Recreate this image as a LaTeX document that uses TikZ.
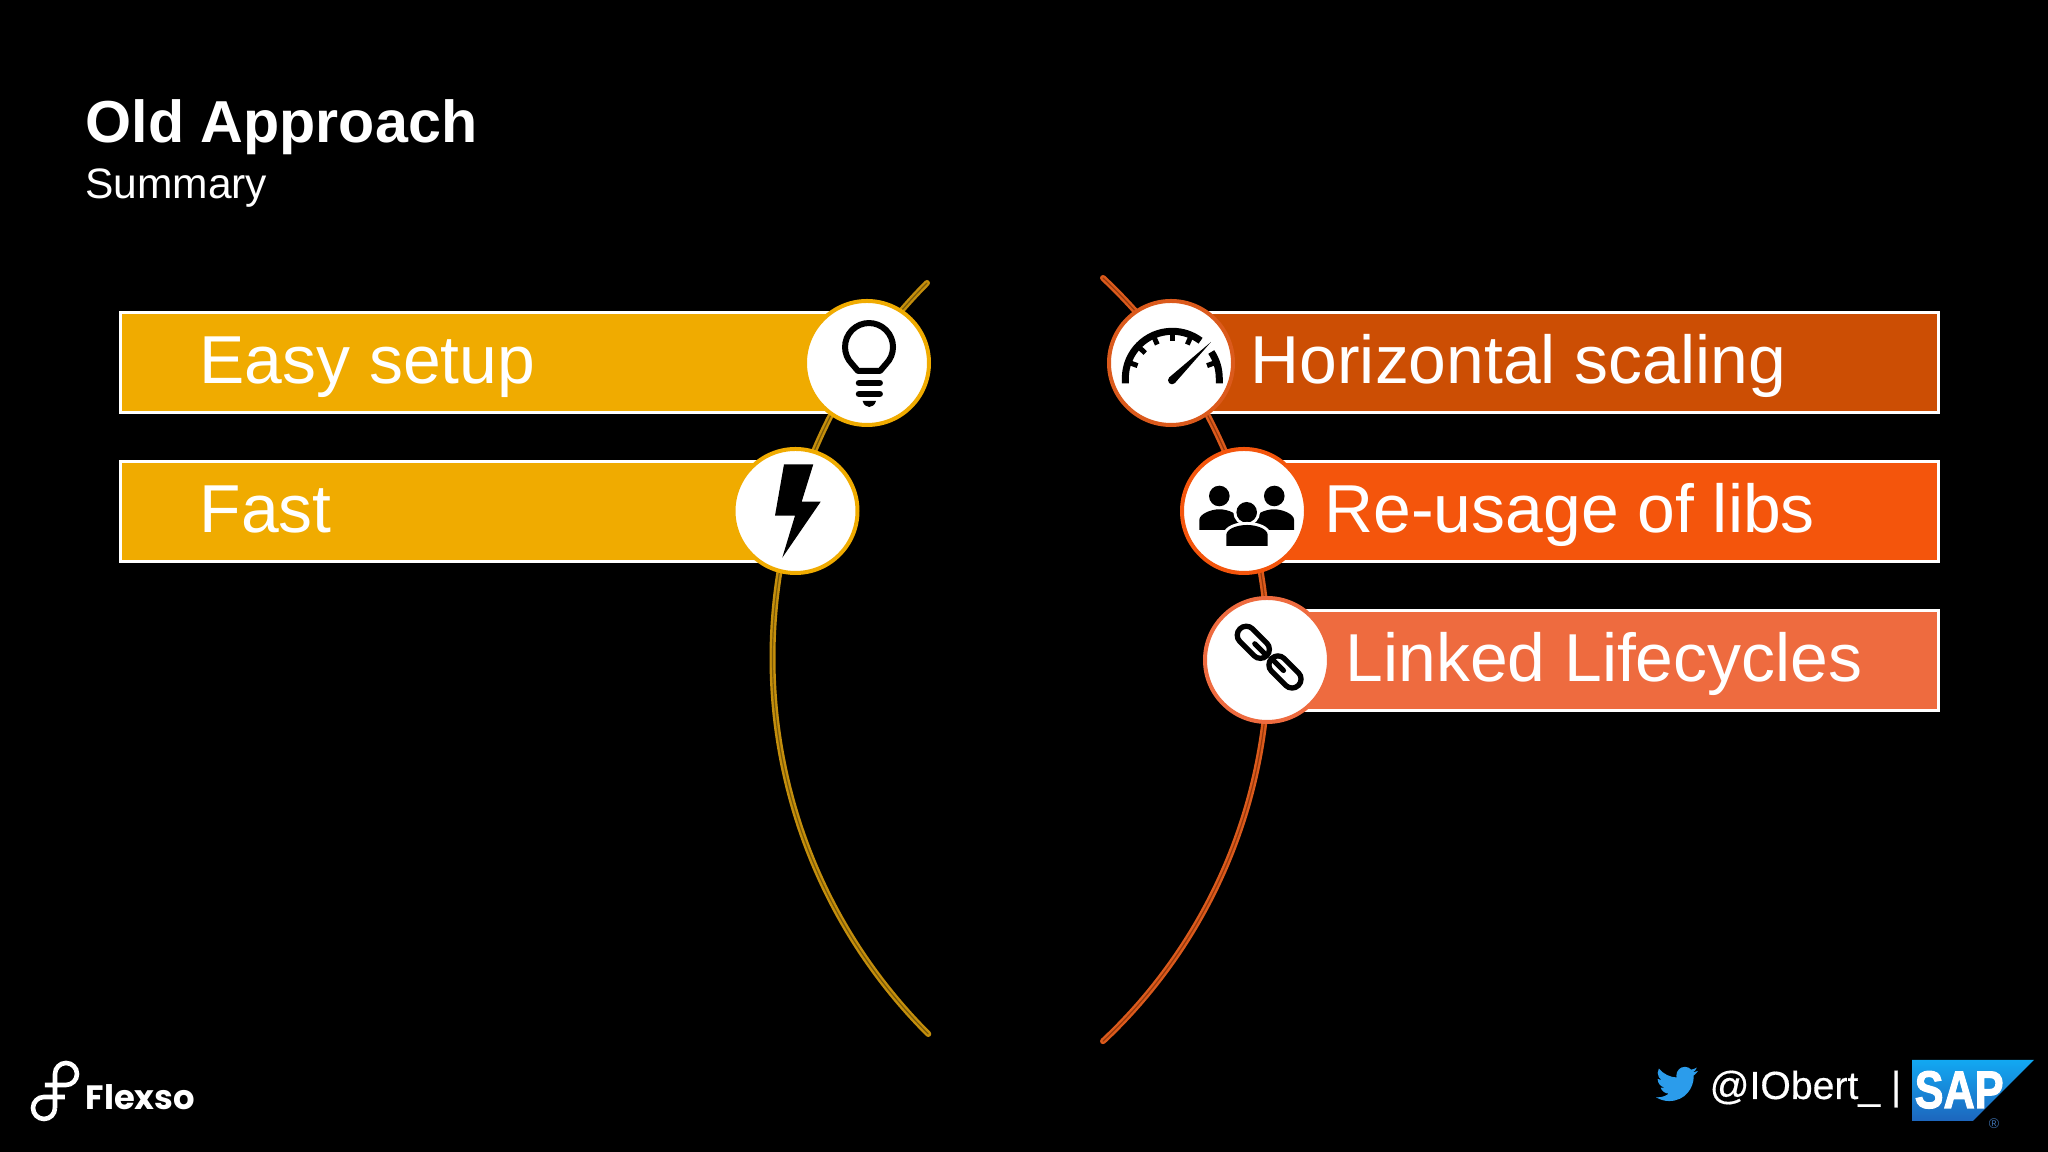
\documentclass[tikz,border=0pt]{standalone}
\usepackage{fontspec}
\setmainfont{Liberation Sans}
\newfontfamily\flexsofont{Poppins}
\newfontfamily\sapfont[FakeBold=2.2]{Liberation Sans Bold}
\newfontfamily\handlefont[FakeBold=0.4]{Liberation Sans}
\usetikzlibrary{%
  shapes,%
  calc%
}
\definecolor{goldbar}{HTML}{F0AB00}
\definecolor{goldline}{HTML}{C48E0C}
\definecolor{goldcore}{HTML}{7A5A08}
\definecolor{rustbar}{HTML}{CC4E04}
\definecolor{orangebar}{HTML}{F4550C}
\definecolor{salmonbar}{HTML}{EE6B3F}
\definecolor{rustline}{HTML}{DB5A1C}
\definecolor{rustcore}{HTML}{96380C}
\definecolor{birdblue}{HTML}{2B9CEB}
\definecolor{saptop}{HTML}{12A8F2}
\definecolor{sapbottom}{HTML}{1D66BD}
\begin{document}
\begin{tikzpicture}[
  bar/.style={rectangle, minimum height=1.0cm, inner sep=0pt, draw=white, line width=0.03cm},
  icon/.style={circle, inner sep=0pt, minimum size=1.24cm, fill=white, line width=0.04cm},
  label/.style={anchor=base west, inner sep=0pt, text=white, font=\fontsize{19.3}{23}\selectfont},
  arcgold/.style={line width=0.024cm, line cap=round, draw=goldline, double=goldcore, double distance=0.012cm},
  arcrust/.style={line width=0.024cm, line cap=round, draw=rustline, double=rustcore, double distance=0.012cm},
  halo/.style={preaction={draw=white, line width=0.06cm}, fill=black}
]

\useasboundingbox (0,0) rectangle (20.48,11.52);
\fill[black] (0,0) rectangle (20.48,11.52);

% titles
\node[anchor=base west, inner sep=0pt, text=white, font=\fontsize{16.85}{20}\selectfont\bfseries] (title) at (0.85,10.09) {Old Approach};
\node[anchor=base west, inner sep=0pt, text=white, font=\fontsize{12.1}{14}\selectfont] (subtitle) at (0.845,9.535) {Summary};

% arcs
\coordinate (goldtop) at (9.27,8.69);
\coordinate (rusttop) at (11.03,8.74);
\draw[arcgold] (goldtop) arc[start angle=135.2, end angle=225.0, radius=5.32];
\draw[arcrust] (rusttop) arc[start angle=46.8, end angle=-46.8, radius=5.235];

% bars
\node[bar, anchor=west, fill=goldbar, minimum width=7.48cm] (easybar) at (1.185,7.89) {};
\node[bar, anchor=west, fill=goldbar, minimum width=6.775cm] (fastbar) at (1.185,6.40) {};
\node[bar, anchor=east, fill=rustbar, minimum width=7.69cm] (scalebar) at (19.40,7.89) {};
\node[bar, anchor=east, fill=orangebar, minimum width=6.96cm] (reusebar) at (19.40,6.40) {};
\node[bar, anchor=east, fill=salmonbar, minimum width=6.73cm] (linkbar) at (19.40,4.915) {};

\node[label] (easy) at (1.99,7.68) {Easy setup};
\node[label] (fast) at (1.99,6.19) {Fast};
\node[label] (scale) at (12.50,7.68) {Horizontal scaling};
\node[label] (reuse) at (13.24,6.19) {Re-usage of libs};
\node[label] (link) at (13.45,4.70) {Linked Lifecycles};

% circles
\node[icon, draw=goldbar] (bulb) at (8.67,7.89) {};
\node[icon, draw=goldbar] (bolt) at (7.955,6.41) {};
\node[icon, draw=rustline] (gauge) at (11.71,7.89) {};
\node[icon, draw=orangebar] (people) at (12.44,6.41) {};
\node[icon, draw=salmonbar] (chain) at (12.67,4.92) {};

% bulb
\begin{scope}[shift={(bulb.center)}, x=0.01cm, y=0.01cm]
  \draw[line width=0.06cm, line join=round] (19,-1) arc[start angle=-45, end angle=225, radius=24] -- (-9,-8) -- (13,-8) -- cycle;
  \draw[line width=0.065cm, line cap=round] (-8,-20) -- (12.7,-20);
  \draw[line width=0.065cm, line cap=round] (-8,-31) -- (12.7,-31);
  \fill (-4.3,-38) -- (9,-38) .. controls (8,-42) and (5,-44) .. (2.3,-44) .. controls (-0.5,-44) and (-3.5,-42) .. (-4.3,-38) -- cycle;
\end{scope}

% bolt
\begin{scope}[shift={(bolt.center)}, x=0.01cm, y=0.01cm]
  \fill (-11.5,46.7) -- (17.8,46.7) -- (6.2,9.3) -- (25.2,9.3) -- (-13.2,-46.7) -- (-0.5,-4.7) -- (-20.5,-4.7) -- cycle;
\end{scope}

% gauge
\begin{scope}[shift={(gauge.center)}, x=0.01cm, y=0.01cm]
  \draw[line width=0.07cm] (-45.7,-20.3) -- (-45.7,-15.3) arc[start angle=180, end angle=53, radius=47];
  \draw[line width=0.07cm] (1.3,-15.3) ++(34:47) arc[start angle=34, end angle=0, radius=47] -- ++(0,-5);
  \foreach \a in {160,137,114,90,66,20} {
    \draw[line width=0.05cm] (1.3,-15.3) ++(\a:47) -- ++(\a+180:10);
  }
  \fill (1,-17.3) circle (4);
  \fill (40,21) -- (-1.8,-14.45) -- (3.8,-20.15) -- cycle;
\end{scope}

% people
\begin{scope}[shift={(people.center)}, x=0.01cm, y=0.01cm]
  \fill (-24.7,15) circle (10.3);
  \fill (30.3,15) circle (10.3);
  \fill (-44.7,-19) -- (-44.7,-9) .. controls (-44.7,-3) and (-33,1.7) .. (-24.7,1.7) .. controls (-16,1.7) and (-5,-3) .. (-5,-9) -- (-5,-19) -- cycle;
  \fill (50.1,-19) -- (50.1,-9) .. controls (50.1,-3) and (38.4,1.7) .. (30.1,1.7) .. controls (21.4,1.7) and (10.4,-3) .. (10.4,-9) -- (10.4,-19) -- cycle;
  \path[halo] (2.7,-1.3) circle (10.3);
  \path[halo] (-17.7,-35) -- (-17.7,-24) .. controls (-17.7,-18) and (-7,-14) .. (3,-14) .. controls (13,-14) and (23.7,-18) .. (23.7,-24) -- (23.7,-35) -- cycle;
\end{scope}

% chain
\foreach \lx/\ly/\sgn in {-13.7/17.7/1, 18/-12/-1} {
  \begin{scope}[shift={(chain.center)}, x=0.01cm, y=0.01cm, shift={(\lx,\ly)}, rotate=-45]
    \draw[line width=0.053cm] (-10,9) -- (10,9) arc[start angle=90, end angle=-90, radius=9] -- (-10,-9) arc[start angle=270, end angle=90, radius=9] -- cycle;
    \draw[line width=0.05cm, line cap=round] (\sgn*19,0) -- (\sgn*2,0);
  \end{scope}
}

% footer
\draw[white, line width=0.046cm] (0.55,0.44) -- (0.55,0.78) arc[start angle=180, end angle=0, radius=0.11] arc[start angle=0, end angle=-90, radius=0.11] -- (0.45,0.67);
\draw[white, line width=0.046cm] (0.65,0.55) -- (0.44,0.55) arc[start angle=90, end angle=270, radius=0.11] arc[start angle=-90, end angle=0, radius=0.11];
\node[anchor=base west, inner sep=0pt, text=white, font=\flexsofont\bfseries\fontsize{9.6}{12}\selectfont] (flexso) at (0.85,0.42) {Flexso};

\begin{scope}[shift={(16.56,0.89)}, x=0.0175cm, y=-0.0175cm]
  \fill[birdblue] (23.95,4.57) .. controls (23.1,4.95) and (22.1,5.2) .. (21.13,5.35)
    .. controls (22.15,4.7) and (22.9,3.75) .. (23.29,2.62)
    .. controls (22.34,3.18) and (21.29,3.58) .. (20.16,3.81)
    .. controls (19.3,2.85) and (18,2.18) .. (16.56,2.18)
    .. controls (13.84,2.18) and (11.64,4.38) .. (11.64,7.1)
    .. controls (11.64,7.5) and (11.68,7.9) .. (11.78,8.29)
    .. controls (7.69,8.095) and (4.067,6.13) .. (1.64,3.162)
    .. controls (1.22,3.88) and (0.974,4.73) .. (0.974,5.637)
    .. controls (0.974,7.347) and (1.844,8.85) .. (3.162,9.733)
    .. controls (2.35,9.7) and (1.6,9.5) .. (0.934,9.117) -- (0.934,9.177)
    .. controls (0.934,11.55) and (2.62,13.55) .. (4.88,14.004)
    .. controls (4.15,14.2) and (3.4,14.23) .. (2.668,14.089)
    .. controls (3.3,16.05) and (5.1,17.45) .. (7.272,17.506)
    .. controls (5.6,18.8) and (3.5,19.61) .. (1.17,19.611)
    .. controls (0.78,19.61) and (0.39,19.59) .. (0,19.544)
    .. controls (2.2,20.95) and (4.8,21.75) .. (7.557,21.753)
    .. controls (16.61,21.753) and (21.555,14.257) .. (21.555,7.768)
    .. controls (21.555,7.558) and (21.555,7.348) .. (21.54,7.138)
    .. controls (22.5,6.45) and (23.35,5.55) .. (23.95,4.57) -- cycle;
\end{scope}
\node[anchor=base west, inner sep=0pt, text=white, font=\handlefont\fontsize{11.15}{14}\selectfont] (handle) at (17.09,0.53) {@IObert\_ |};

\shade[top color=saptop, bottom color=sapbottom] (19.12,0.31) -- (19.12,0.92) -- (20.34,0.92) -- (19.73,0.31) -- cycle;
\node[anchor=base west, inner sep=0pt, text=white, font=\sapfont\fontsize{15}{18}\selectfont] (sap) at (19.14,0.44) {\scalebox{0.82}[1]{SAP}};
\node[inner sep=0pt, text=sapbottom!70!gray, font=\fontsize{4}{5}\selectfont] (regmark) at (19.94,0.28) {®};

\end{tikzpicture}
\end{document}
